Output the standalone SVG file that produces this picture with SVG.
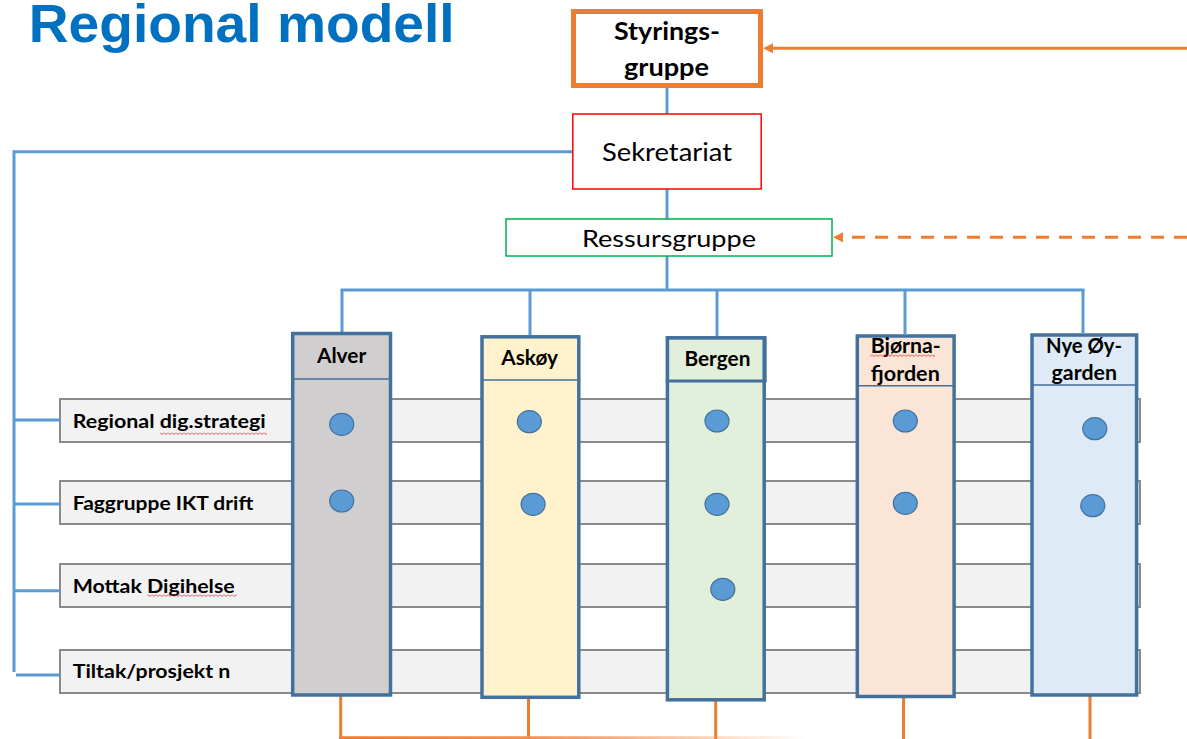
<svg xmlns="http://www.w3.org/2000/svg" width="1187" height="739" viewBox="0 0 1187 739">
<style>
.t{font-family:Lato,"Open Sans","Liberation Sans",sans-serif;fill:#000}
.b{font-weight:bold}
.lbl{font-size:19.5px;font-weight:bold}
.hd{font-size:20px;font-weight:bold;text-anchor:middle}
.bar{fill:#F2F2F2;stroke:#8A8A8A;stroke-width:2}
.col{stroke:#41719C;stroke-width:3.5}
.div{stroke:#41719C;stroke-width:1.5}
.dot{fill:#5B9BD5;stroke:#41719C;stroke-width:1.2}
.bl{stroke:#5B9BD5;stroke-width:3;fill:none}
.or{stroke:#ED7D31;stroke-width:3;fill:none}
</style>
<defs>
<marker id="ah" viewBox="0 0 10 10" refX="2" refY="5" markerWidth="10" markerHeight="10" markerUnits="userSpaceOnUse" orient="auto">
<path d="M0,0 L10,5 L0,10 z" fill="#ED7D31"/>
</marker>
<pattern id="sq" x="0" y="0" width="4" height="3" patternUnits="userSpaceOnUse">
<path d="M0 0.5 L2 2.5 L4 0.5" fill="none" stroke="#E02020" stroke-width="0.8"/>
</pattern>
<linearGradient id="fade" gradientUnits="userSpaceOnUse" x1="340" y1="0" x2="805" y2="0">
<stop offset="0" stop-color="#ED7D31"/>
<stop offset="0.4" stop-color="#F09050"/>
<stop offset="1" stop-color="#ED7D31" stop-opacity="0"/>
</linearGradient>
</defs>
<rect width="1187" height="739" fill="#FFFFFF"/>

<text id="title" x="28.7" y="41.5" font-family="'Liberation Sans',Arial,sans-serif" font-weight="bold" font-size="53" fill="#0070C0" textLength="426" lengthAdjust="spacingAndGlyphs">Regional modell</text>

<g id="rows">
<g id="row-regional">
<rect class="bar" x="60" y="399" width="1080" height="43"/>
<text class="t lbl" x="72.7" y="428.3" textLength="193" lengthAdjust="spacingAndGlyphs">Regional dig.strategi</text>
<rect x="160" y="432" width="107" height="3" fill="url(#sq)"/>
</g>
<g id="row-faggruppe">
<rect class="bar" x="60" y="481" width="1080" height="43"/>
<text class="t lbl" x="72.7" y="510" textLength="180.6" lengthAdjust="spacingAndGlyphs">Faggruppe IKT drift</text>
</g>
<g id="row-mottak">
<rect class="bar" x="60" y="564" width="1080" height="43"/>
<text class="t lbl" x="72.7" y="593.3" textLength="162" lengthAdjust="spacingAndGlyphs">Mottak Digihelse</text>
<rect x="147" y="594" width="90" height="3" fill="url(#sq)"/>
</g>
<g id="row-tiltak">
<rect class="bar" x="60" y="650" width="1080" height="43"/>
<text class="t lbl" x="72.7" y="678.3" textLength="157.7" lengthAdjust="spacingAndGlyphs">Tiltak/prosjekt n</text>
</g>
</g>

<g id="connectors">
<line class="bl" x1="667" y1="88" x2="667" y2="114"/>
<line class="bl" x1="667" y1="189" x2="667" y2="219"/>
<line class="bl" x1="667" y1="256" x2="667" y2="290"/>
<polyline class="bl" points="572,151.7 14,151.7 14,672"/>
<line class="bl" x1="14" y1="420" x2="60" y2="420"/>
<line class="bl" x1="14" y1="504" x2="60" y2="504"/>
<line class="bl" x1="14" y1="590.7" x2="60" y2="590.7"/>
<line class="bl" x1="16" y1="675" x2="60" y2="675"/>
<line class="bl" x1="340.5" y1="290" x2="1084.5" y2="290"/>
<line class="bl" x1="342" y1="290" x2="342" y2="332"/>
<line class="bl" x1="530" y1="290" x2="530" y2="335"/>
<line class="bl" x1="717" y1="290" x2="717" y2="336"/>
<line class="bl" x1="905" y1="290" x2="905" y2="334"/>
<line class="bl" x1="1083" y1="290" x2="1083" y2="333"/>
<line class="or" x1="1187" y1="48.3" x2="771" y2="48.3" stroke-width="2.5" marker-end="url(#ah)"/>
<line class="or" x1="1187" y1="237.3" x2="841" y2="237.3" stroke-width="2.5" stroke-dasharray="13 10" marker-end="url(#ah)"/>
<line class="or" x1="340.7" y1="696" x2="340.7" y2="739"/>
<line class="or" x1="528.5" y1="698" x2="528.5" y2="739"/>
<line class="or" x1="715.7" y1="700" x2="715.7" y2="739"/>
<line class="or" x1="903.5" y1="697" x2="903.5" y2="739"/>
<line class="or" x1="1090" y1="696" x2="1090" y2="739"/>
<line x1="339.2" y1="737.7" x2="805" y2="737.7" stroke="url(#fade)" stroke-width="3"/>
</g>

<g id="styringsgruppe">
<rect x="573.5" y="11.5" width="187" height="74" fill="#FFFFFF" stroke="#ED7D31" stroke-width="5"/>
<text class="t b" x="667" y="40" font-size="24" text-anchor="middle" textLength="106" lengthAdjust="spacingAndGlyphs">Styrings-</text>
<text class="t b" x="666.5" y="76" font-size="24" text-anchor="middle" textLength="85" lengthAdjust="spacingAndGlyphs">gruppe</text>
</g>
<g id="sekretariat">
<rect x="572.8" y="114" width="188.4" height="75" fill="#FFFFFF" stroke="#FF0000" stroke-width="1.5"/>
<text class="t" x="667" y="161" font-size="25.5" text-anchor="middle" textLength="130" lengthAdjust="spacingAndGlyphs">Sekretariat</text>
</g>
<g id="ressursgruppe">
<rect x="506" y="219" width="326" height="37" fill="#FFFFFF" stroke="#00B050" stroke-width="1.5"/>
<text class="t" x="669" y="246.7" font-size="23" text-anchor="middle" textLength="174" lengthAdjust="spacingAndGlyphs">Ressursgruppe</text>
</g>

<g id="alver">
<rect class="col" x="292.7" y="333.5" width="97.8" height="361.5" fill="#D0CECE"/>
<line class="div" x1="292.7" y1="379" x2="390.5" y2="379"/>
<text class="t hd" x="341.6" y="363.3" textLength="49.4" lengthAdjust="spacingAndGlyphs">Alver</text>
<ellipse class="dot" cx="341.7" cy="424.3" rx="12" ry="11"/>
<ellipse class="dot" cx="341.7" cy="501" rx="12" ry="11"/>
</g>
<g id="askoy">
<rect class="col" x="482" y="336.8" width="96.8" height="360.5" fill="#FFF2CC"/>
<line class="div" x1="482" y1="380" x2="578.8" y2="380"/>
<text class="t hd" x="529.6" y="365" textLength="56.6" lengthAdjust="spacingAndGlyphs">Askøy</text>
<ellipse class="dot" cx="529.3" cy="421.7" rx="12" ry="11"/>
<ellipse class="dot" cx="533.1" cy="504.3" rx="12" ry="11"/>
</g>
<g id="bergen">
<rect class="col" x="667.4" y="337.8" width="96.8" height="362" fill="#E2EFDA"/>
<rect x="667.4" y="337.8" width="97.8" height="43.2" fill="none" stroke="#41719C" stroke-width="3"/>
<text class="t hd" x="717.4" y="366" textLength="66" lengthAdjust="spacingAndGlyphs">Bergen</text>
<ellipse class="dot" cx="717" cy="421" rx="12" ry="11"/>
<ellipse class="dot" cx="717" cy="504.3" rx="12" ry="11"/>
<ellipse class="dot" cx="722.8" cy="589.3" rx="12" ry="11"/>
</g>
<g id="bjornafjorden">
<rect class="col" x="857.3" y="336" width="96.8" height="360.5" fill="#FBE5D6"/>
<line class="div" x1="857.3" y1="385.7" x2="954.1" y2="385.7"/>
<text class="t hd" x="905.7" y="353.3" textLength="70" lengthAdjust="spacingAndGlyphs">Bjørna-</text>
<text class="t hd" x="905.3" y="381" textLength="69" lengthAdjust="spacingAndGlyphs">fjorden</text>
<rect x="870" y="354" width="65" height="3" fill="url(#sq)"/>
<ellipse class="dot" cx="905.3" cy="421" rx="12" ry="11"/>
<ellipse class="dot" cx="905.3" cy="503.3" rx="12" ry="11"/>
</g>
<g id="nye-oygarden">
<rect class="col" x="1032" y="335" width="104.6" height="360" fill="#DEEBF7"/>
<line class="div" x1="1032" y1="385" x2="1136.6" y2="385"/>
<text class="t hd" x="1084" y="352.7" textLength="76" lengthAdjust="spacingAndGlyphs">Nye Øy-</text>
<text class="t hd" x="1084.3" y="380" textLength="65.4" lengthAdjust="spacingAndGlyphs">garden</text>
<ellipse class="dot" cx="1094.8" cy="428.7" rx="12" ry="11"/>
<ellipse class="dot" cx="1092.8" cy="505.7" rx="12" ry="11"/>
</g>
</svg>
